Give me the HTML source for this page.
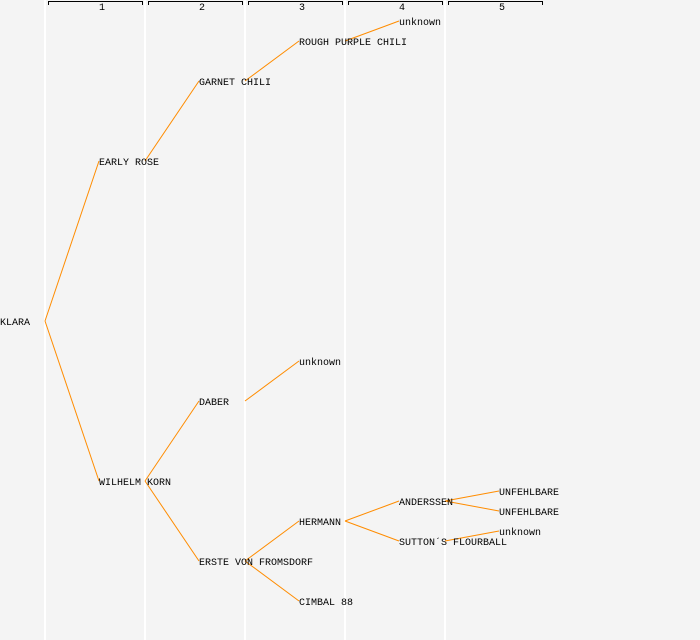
<!DOCTYPE html>
<html><head><style>
html,body{margin:0;padding:0;background:#f4f4f4;}
svg{display:block;}
text{font-family:"Liberation Mono",monospace;font-size:10px;fill:#000;}
</style></head><body>
<svg width="700" height="640" viewBox="0 0 700 640" xmlns="http://www.w3.org/2000/svg">
<rect width="700" height="640" fill="#f4f4f4"/>
<g stroke="#ffffff" stroke-width="2">
<line x1="45" y1="0" x2="45" y2="640"/>
<line x1="145" y1="0" x2="145" y2="640"/>
<line x1="245" y1="0" x2="245" y2="640"/>
<line x1="345" y1="0" x2="345" y2="640"/>
<line x1="445" y1="0" x2="445" y2="640"/>
</g>
<g stroke="#000" stroke-width="1" fill="none">
<path d="M48.5 5V1.5H142.5V5"/>
<path d="M148.5 5V1.5H242.5V5"/>
<path d="M248.5 5V1.5H342.5V5"/>
<path d="M348.5 5V1.5H442.5V5"/>
<path d="M448.5 5V1.5H542.5V5"/>
</g>
<g text-anchor="middle" style="font-size:8px">
<text x="102" y="10">1</text><text x="202" y="10">2</text><text x="302" y="10">3</text><text x="402" y="10">4</text><text x="502" y="10">5</text>
</g>
<g stroke="#ff8c00" stroke-width="1" fill="none">
<line x1="45" y1="321" x2="99" y2="161"/>
<line x1="45" y1="321" x2="99" y2="481"/>
<line x1="145" y1="161" x2="199" y2="81"/>
<line x1="145" y1="481" x2="199" y2="401"/>
<line x1="145" y1="481" x2="199" y2="561"/>
<line x1="245" y1="81" x2="299" y2="41"/>
<line x1="245" y1="401" x2="299" y2="361"/>
<line x1="245" y1="561" x2="299" y2="521"/>
<line x1="245" y1="561" x2="299" y2="601"/>
<line x1="345" y1="41" x2="399" y2="21"/>
<line x1="345" y1="521" x2="399" y2="501"/>
<line x1="345" y1="521" x2="399" y2="541"/>
<line x1="445" y1="501" x2="499" y2="491"/>
<line x1="445" y1="501" x2="499" y2="511"/>
<line x1="445" y1="541" x2="499" y2="531"/>
</g>
<g>
<text x="0" y="325">KLARA</text>
<text x="99" y="165">EARLY ROSE</text>
<text x="99" y="485">WILHELM KORN</text>
<text x="199" y="85">GARNET CHILI</text>
<text x="199" y="405">DABER</text>
<text x="199" y="565">ERSTE VON FROMSDORF</text>
<text x="299" y="45">ROUGH PURPLE CHILI</text>
<text x="299" y="365">unknown</text>
<text x="299" y="525">HERMANN</text>
<text x="299" y="605">CIMBAL 88</text>
<text x="399" y="25">unknown</text>
<text x="399" y="505">ANDERSSEN</text>
<text x="399" y="545">SUTTON´S FLOURBALL</text>
<text x="499" y="495">UNFEHLBARE</text>
<text x="499" y="515">UNFEHLBARE</text>
<text x="499" y="535">unknown</text>
</g>
</svg>
</body></html>
